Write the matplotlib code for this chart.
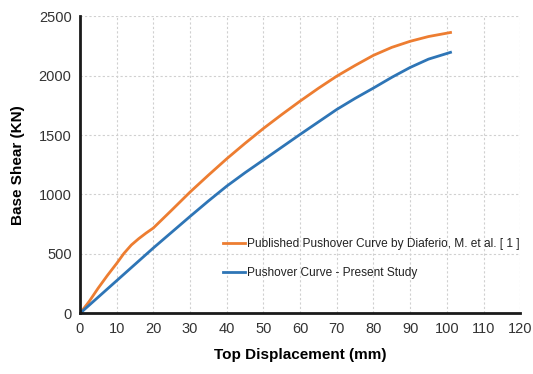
import matplotlib
matplotlib.use("Agg")
import matplotlib.pyplot as plt
import numpy as np

plt.rcParams['font.family'] = ['Liberation Sans', 'DejaVu Sans']

disp_pub = [0, 2.5, 5, 7.5, 10, 12, 14, 16, 18, 20, 25, 30, 35, 40, 45, 50, 55, 60,
            65, 70, 75, 80, 85, 90, 95, 101]
shear_pub = [0, 100, 214, 320, 420, 505, 575, 628, 675, 718, 868, 1020, 1162, 1300,
             1430, 1555, 1672, 1785, 1893, 1995, 2085, 2170, 2237, 2288, 2328, 2362]

disp_ps = [0, 10, 20, 30, 35, 40, 45, 50, 60, 70, 75, 80, 85, 90, 95, 101]
shear_ps = [0, 275, 550, 815, 945, 1070, 1183, 1290, 1505, 1715, 1808, 1895, 1985,
            2068, 2138, 2195]

label_pub = "Published Pushover Curve by Diaferio, M. et al. [ 1 ]"
label_ps = "Pushover Curve - Present Study"

fig = plt.figure(figsize=(5.33, 3.74), dpi=100)
ax = fig.add_axes([0.150, 0.162, 0.826, 0.795])

ax.plot(disp_pub, shear_pub, color='#ED7D31', lw=2, label=label_pub,
        solid_joinstyle='round')
ax.plot(disp_ps, shear_ps, color='#2E75B6', lw=2, label=label_ps,
        solid_joinstyle='round')

ax.set_xlim(0, 120)
ax.set_ylim(0, 2500)
ax.set_xticks(np.arange(0, 121, 10))
ax.set_yticks(np.arange(0, 2501, 500))
ax.grid(True, color='#d0d0d0', linestyle=(0, (2, 2)), lw=0.8)
ax.set_axisbelow(True)
for s in ['top', 'right']:
    ax.spines[s].set_visible(False)
for s in ['left', 'bottom']:
    ax.spines[s].set_linewidth(2)
    ax.spines[s].set_color('#1a1a1a')
ax.tick_params(axis='both', length=0, labelsize=10.5, colors='#333333', pad=6)
ax.set_xlabel('Top Displacement (mm)', fontsize=11, fontweight='bold', labelpad=9)
ax.set_ylabel('Base Shear (KN)', fontsize=11, fontweight='bold', labelpad=10)

leg = ax.legend(loc='lower left', bbox_to_anchor=(0.3, 0.078), frameon=False,
                fontsize=8.6, handlelength=1.9, handletextpad=0.15, labelspacing=1.45)
for t in leg.get_texts():
    t.set_color('#222222')

fig.savefig('out.png', dpi=100)
